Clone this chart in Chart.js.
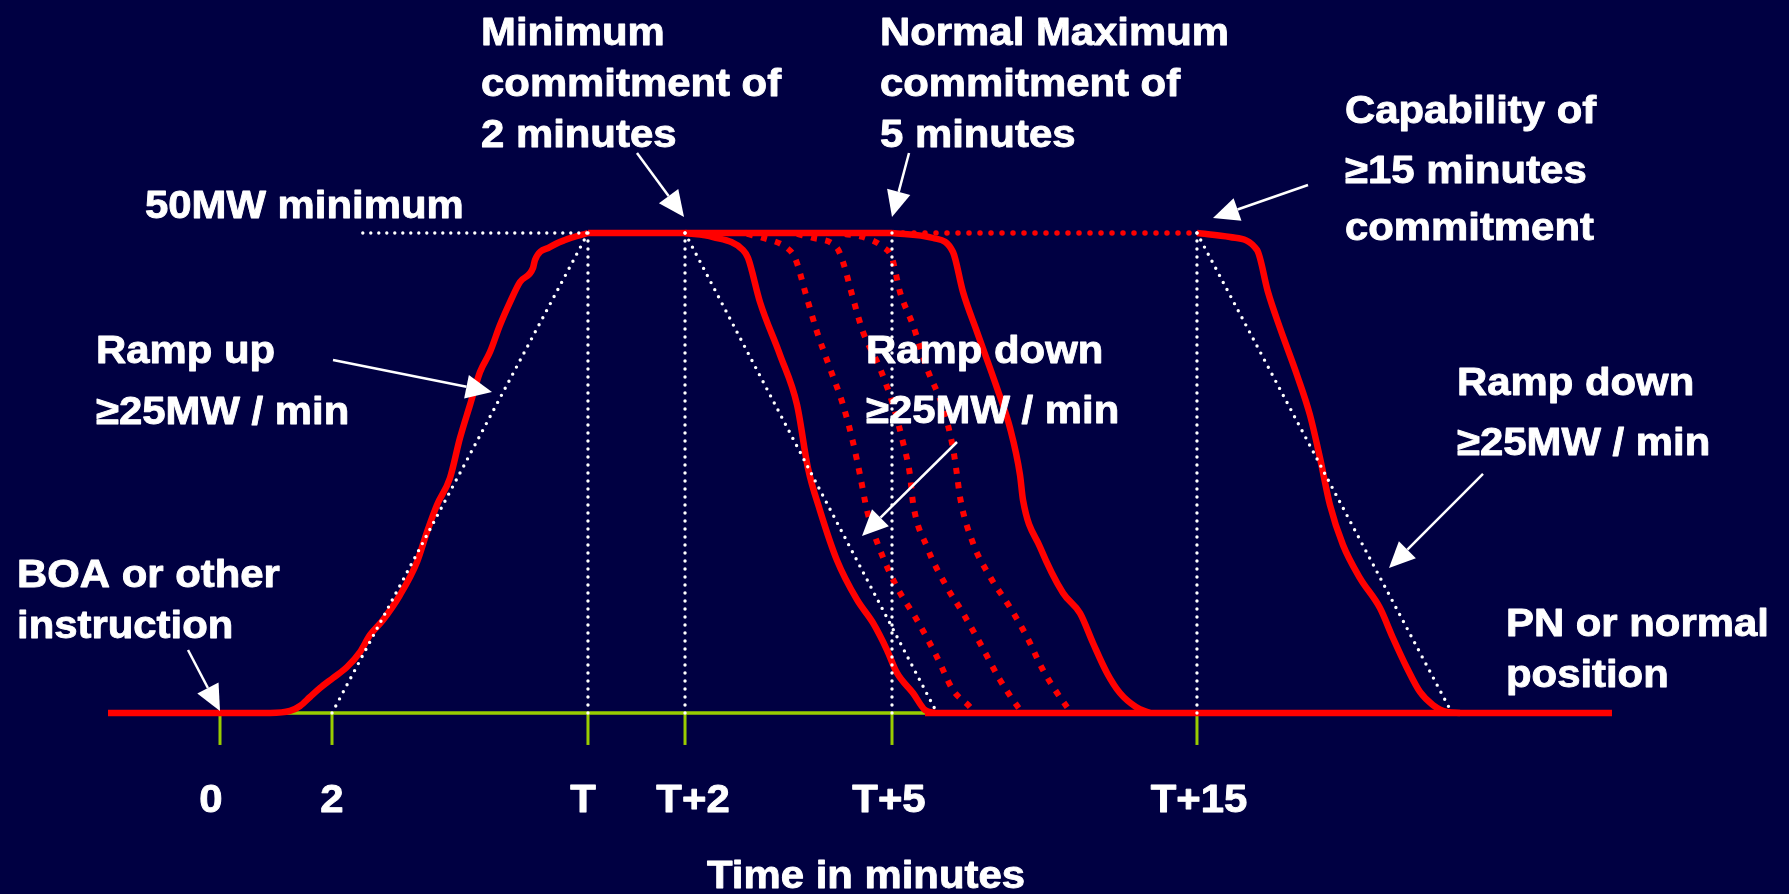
<!DOCTYPE html>
<html>
<head>
<meta charset="utf-8">
<script src="https://cdn.jsdelivr.net/npm/chart.js@4/dist/chart.umd.min.js"></script>
<style>
  html, body { margin: 0; padding: 0; background: #000042; }
  #wrap { width: 1789px; height: 894px; position: relative; }
</style>
</head>
<body>
<div id="wrap"><canvas id="c"></canvas></div>
<script>
// ---------- DATA (x in diagram time units, y in MW) ----------
const tickValues = [0, 2, 6.571, 8.304, 12.0, 17.446];
const tickLabels = ['0', '2', 'T', 'T+2', 'T+5', 'T+15'];
const minimumMW = 50;

// Ramp up (solid red), from the left baseline to the 50MW level
const rampUpX = [-2.0, 0.893, 1.25, 1.429, 1.607, 1.786, 2.018, 2.268, 2.5, 2.679, 2.911, 3.214, 3.518, 3.696, 3.875, 4.107, 4.286, 4.464, 4.643, 4.821, 5.0, 5.179, 5.357, 5.589, 5.625, 5.893, 6.161, 6.571];
const rampUpY = [0, 0, 0.21, 0.73, 1.67, 2.6, 3.65, 4.79, 6.35, 8.13, 9.69, 12.29, 15.73, 18.85, 21.67, 24.48, 28.65, 32.08, 35.52, 37.6, 40.42, 42.81, 44.9, 46.35, 47.19, 48.54, 49.27, 50];

// Flat top: solid from T to T+5, dotted from T+5 to T+15
const topSolidX = [6.571, 12.0];
const topSolidY = [50, 50];
const topDottedX = [12.0, 17.446];
const topDottedY = [50, 50];

// Ramp down after 2 minute commitment (solid)
const down2X = [8.304, 8.804, 9.339, 9.429, 9.643, 10.0, 10.304, 10.5, 10.714, 11.018, 11.375, 11.661, 11.911, 12.089, 12.375, 12.589, 12.768];
const down2Y = [50, 49.58, 48.23, 47.4, 42.8, 37.3, 32.1, 25.5, 21.1, 15.9, 11.8, 9.38, 6.56, 4.17, 2.08, 0.31, 0];

// Intermediate ramp downs (dotted)
const downAX = [9.411, 9.696, 10.125, 10.268, 10.482, 10.661, 10.893, 11.125, 11.304, 11.429, 11.554, 11.786, 12.089, 12.446, 12.804, 13.089, 13.393, 13.482];
const downAY = [49.9, 49.48, 48.44, 47.4, 43.2, 39.7, 35.9, 32.1, 28.2, 24.8, 21.1, 17.0, 13.1, 9.69, 5.83, 2.4, 0.63, 0];
const downBX = [10.304, 10.589, 11.018, 11.125, 11.304, 11.482, 11.786, 12.018, 12.196, 12.321, 12.375, 12.625, 12.982, 13.268, 13.571, 13.929, 14.25, 14.339];
const downBY = [49.9, 49.48, 48.44, 46.98, 43.2, 39.7, 35.9, 32.1, 28.2, 24.8, 21.9, 17.3, 13.1, 10.4, 7.29, 3.44, 0.63, 0];
const downCX = [11.161, 11.482, 11.839, 12.0, 12.143, 12.375, 12.625, 12.911, 13.089, 13.161, 13.214, 13.446, 13.75, 14.107, 14.411, 14.696, 15.125, 15.214];
const downCY = [49.9, 49.58, 48.54, 47.4, 43.85, 40.4, 35.9, 31.8, 27.6, 24.8, 22.5, 17.7, 14.2, 11.0, 7.92, 4.48, 0.63, 0];

// Ramp down after 5 minute commitment (solid)
const down5X = [12.0, 12.732, 13.089, 13.268, 13.518, 13.875, 14.107, 14.286, 14.339, 14.643, 15.054, 15.357, 15.589, 15.839, 16.071, 16.357, 16.607];
const down5Y = [50, 49.48, 48.02, 43.85, 39.7, 33.85, 29.7, 24.8, 22.2, 17.3, 12.5, 10.4, 7.29, 4.17, 2.08, 0.63, 0];

// Ramp down after 15 minute commitment (solid)
const down15X = [17.446, 18.036, 18.518, 18.714, 18.929, 19.232, 19.464, 19.643, 19.821, 20.054, 20.357, 20.714, 20.946, 21.196, 21.429, 21.661, 21.911, 22.143];
const down15Y = [50, 49.58, 48.23, 43.85, 40.1, 35.21, 31.04, 26.56, 21.67, 17.5, 14.06, 10.94, 7.81, 4.69, 2.19, 0.83, 0.1, 0];

// Baselines
const redBaseX = [12.59, 24.857];
const redBaseY = [0, 0];
const axisX = [0, 12.59];
const axisY = [0, 0];

// White dotted guides
const guideLevelX = [2.55, 6.571];
const guideLevelY = [50, 50];
const guideUpX = [2.0, 6.571];
const guideUpY = [0, 50];
const guideDown2X = [8.304, 12.804];
const guideDown2Y = [50, 0];
const guideDown15X = [17.446, 22.0];
const guideDown15Y = [50, 0];
const guideVerticals = [6.571, 8.304, 12.0, 17.446];

// ---------- LAYOUT (annotations, in data units) ----------
const view = { xMin: -3.9286, xMax: 28.018, yMin: -18.854, yMax: 74.27 };
const textBlocks = [
  { x: 4.661, ys: [69.58, 64.27, 58.96], lines: ['Minimum', 'commitment of', '2 minutes'] },
  { x: 11.786, ys: [69.58, 64.27, 58.96], lines: ['Normal Maximum', 'commitment of', '5 minutes'] },
  { x: 20.089, ys: [61.46, 55.21, 49.27], lines: ['Capability of', '\u226515 minutes', 'commitment'] },
  { x: -1.339, ys: [51.56], lines: ['50MW minimum'] },
  { x: -2.214, ys: [36.46, 30.1], lines: ['Ramp up', '\u226525MW / min'] },
  { x: 11.536, ys: [36.46, 30.21], lines: ['Ramp down', '\u226525MW / min'] },
  { x: 22.089, ys: [33.125, 26.875], lines: ['Ramp down', '\u226525MW / min'] },
  { x: -3.625, ys: [13.125, 7.81], lines: ['BOA or other', 'instruction'] },
  { x: 22.964, ys: [8.02, 2.71], lines: ['PN or normal', 'position'] }
];
const axisTitle = { text: 'Time in minutes', x: 11.536, y: -18.23 };
const tickLabelY = -10.31;
const tickLabelShiftPx = [-9, 0, -5, 8, -3, 2];
const tickMarkBottom = -3.33;
const arrows = [
  { from: [7.446, 58.33], to: [8.286, 51.67] },
  { from: [12.304, 58.33], to: [12.0, 51.67] },
  { from: [19.429, 55.0], to: [17.732, 51.56] },
  { from: [2.018, 36.77], to: [4.857, 33.44] },
  { from: [13.161, 28.23], to: [11.464, 18.44] },
  { from: [22.554, 24.9], to: [20.875, 15.1] },
  { from: [-0.571, 6.56], to: [0, 0.21] }
];

// ---------- STYLES ----------
const BG = '#000042';
const RED = '#ff0000';
const WHITE = '#ffffff';
const GREEN = '#99cc00';
const FONT = 'bold 39.5px "Liberation Sans", Arial, Helvetica, sans-serif';
const HSCALE = 1.06;

function pts(xs, ys) { return xs.map((x, i) => ({ x: x, y: ys[i] })); }

function solidRed(xs, ys) {
  return { data: pts(xs, ys), borderColor: RED, borderWidth: 6.5, borderJoinStyle: 'round', borderCapStyle: 'butt', cubicInterpolationMode: 'monotone', order: 2 };
}
function dashedRed(xs, ys) {
  return { data: pts(xs, ys), borderColor: RED, borderWidth: 6, borderDash: [6, 8.5], borderCapStyle: 'butt', cubicInterpolationMode: 'monotone', order: 2 };
}
function dottedWhite(xs, ys) {
  return { data: pts(xs, ys), borderColor: WHITE, borderWidth: 3.4, borderDash: [0, 8], borderCapStyle: 'round', order: 1 };
}

const datasets = [
  { data: pts(axisX, axisY), borderColor: GREEN, borderWidth: 3.5, order: 3 },
  solidRed(rampUpX, rampUpY),
  solidRed(topSolidX, topSolidY),
  { data: pts(topDottedX, topDottedY), borderColor: RED, borderWidth: 5.5, borderDash: [0, 11], borderCapStyle: 'round', order: 2 },
  solidRed(down2X, down2Y),
  dashedRed(downAX, downAY),
  dashedRed(downBX, downBY),
  dashedRed(downCX, downCY),
  solidRed(down5X, down5Y),
  solidRed(down15X, down15Y),
  solidRed(redBaseX, redBaseY),
  dottedWhite(guideLevelX, guideLevelY),
  dottedWhite(guideUpX, guideUpY),
  dottedWhite(guideDown2X, guideDown2Y),
  dottedWhite(guideDown15X, guideDown15Y)
];
guideVerticals.forEach(v => datasets.push(dottedWhite([v, v], [0, minimumMW])));

const bgPlugin = {
  id: 'bg',
  beforeDraw(chart) {
    const ctx = chart.ctx;
    ctx.save();
    ctx.fillStyle = BG;
    ctx.fillRect(0, 0, chart.width, chart.height);
    ctx.restore();
  },
  beforeDatasetsDraw(chart) {
    const ctx = chart.ctx, xs = chart.scales.x, ys = chart.scales.y;
    ctx.save();
    ctx.strokeStyle = GREEN;
    ctx.lineWidth = 3;
    tickValues.forEach(v => {
      const px = xs.getPixelForValue(v);
      ctx.beginPath();
      ctx.moveTo(px, ys.getPixelForValue(0));
      ctx.lineTo(px, ys.getPixelForValue(tickMarkBottom));
      ctx.stroke();
    });
    ctx.restore();
  }
};

function drawText(ctx, text, px, py, align) {
  ctx.save();
  ctx.translate(px, py);
  ctx.scale(HSCALE, 1);
  ctx.textAlign = align;
  ctx.textBaseline = 'alphabetic';
  ctx.lineWidth = 0.9;
  ctx.lineJoin = 'round';
  ctx.strokeStyle = WHITE;
  ctx.strokeText(text, 0, 0);
  ctx.fillText(text, 0, 0);
  ctx.restore();
}

const annoPlugin = {
  id: 'anno',
  afterDatasetsDraw(chart) {
    const ctx = chart.ctx, xs = chart.scales.x, ys = chart.scales.y;
    ctx.save();
    ctx.fillStyle = WHITE;
    ctx.font = FONT;
    textBlocks.forEach(b => {
      b.lines.forEach((t, i) => drawText(ctx, t, xs.getPixelForValue(b.x), ys.getPixelForValue(b.ys[i]), 'left'));
    });
    tickValues.forEach((v, i) => drawText(ctx, tickLabels[i], xs.getPixelForValue(v) + tickLabelShiftPx[i], ys.getPixelForValue(tickLabelY), 'center'));
    drawText(ctx, axisTitle.text, xs.getPixelForValue(axisTitle.x), ys.getPixelForValue(axisTitle.y), 'center');

    // arrows
    ctx.strokeStyle = WHITE;
    ctx.fillStyle = WHITE;
    ctx.lineWidth = 2.5;
    arrows.forEach(a => {
      const x1 = xs.getPixelForValue(a.from[0]), y1 = ys.getPixelForValue(a.from[1]);
      const x2 = xs.getPixelForValue(a.to[0]), y2 = ys.getPixelForValue(a.to[1]);
      const ang = Math.atan2(y2 - y1, x2 - x1);
      const L = 26, W = 12;
      const bx = x2 - L * Math.cos(ang), by = y2 - L * Math.sin(ang);
      ctx.beginPath();
      ctx.moveTo(x1, y1);
      ctx.lineTo(bx, by);
      ctx.stroke();
      ctx.beginPath();
      ctx.moveTo(x2, y2);
      ctx.lineTo(bx + W * Math.sin(ang), by - W * Math.cos(ang));
      ctx.lineTo(bx - W * Math.sin(ang), by + W * Math.cos(ang));
      ctx.closePath();
      ctx.fill();
    });
    ctx.restore();
  }
};

new Chart(document.getElementById('c'), {
  type: 'line',
  data: { datasets: datasets },
  options: {
    responsive: true,
    maintainAspectRatio: false,
    animation: false,
    events: [],
    layout: { padding: 0 },
    elements: { point: { radius: 0 }, line: { tension: 0, fill: false } },
    plugins: { legend: { display: false }, tooltip: { enabled: false } },
    scales: {
      x: { type: 'linear', display: false, min: view.xMin, max: view.xMax },
      y: { type: 'linear', display: false, min: view.yMin, max: view.yMax }
    }
  },
  plugins: [bgPlugin, annoPlugin]
});
</script>
</body>
</html>
